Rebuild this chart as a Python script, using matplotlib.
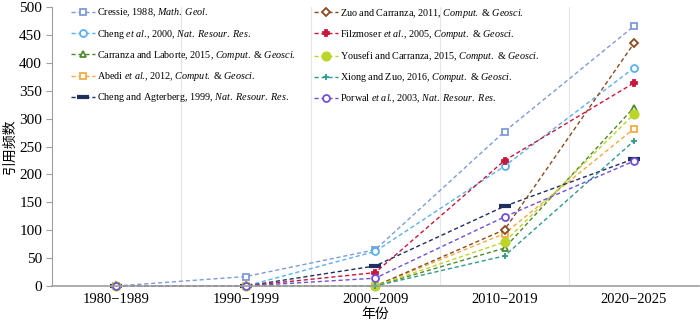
import matplotlib.pyplot as plt
import numpy as np

plt.rcParams['font.family'] = ['Liberation Serif', 'Noto Sans CJK SC']
plt.rcParams['mathtext.fontset'] = 'custom'
plt.rcParams['mathtext.rm'] = 'Liberation Serif'
plt.rcParams['mathtext.it'] = 'Liberation Serif:italic'
plt.rcParams['mathtext.default'] = 'it'

periods = ["1980\u22121989", "1990\u22121999", "2000\u22122009", "2010\u22122019", "2020\u22122025"]

cressie = [0, 17, 65, 277, 466]
cheng2000 = [0, 0, 62, 215, 391]
carranza_laborte = [0, 0, 0, 68, 320]
abedi = [0, 0, 0, 94, 282]
cheng_agterberg = [0, 0, 36, 143, 228]
zuo_carranza = [0, 0, 0, 101, 435]
filzmoser = [0, 0, 24, 225, 364]
yousefi = [0, 0, 0, 79, 308]
xiong_zuo = [0, 0, 0, 54, 260]
porwal = [0, 0, 14, 124, 224]

CG = r"$Comput.\ &\ Geosci.$"
NRR = r"$Nat.\ Resour.\ Res.$"
ETAL = r"$et\ al$."

series = [
    (cressie, r"Cressie, 1988, $Math.\ Geol.$", "#7F9BD9", "s", "none"),
    (cheng2000, "Cheng " + ETAL + ", 2000, " + NRR, "#5AB0F0", "o", "none"),
    (carranza_laborte, "Carranza and Laborte, 2015, " + CG, "#4E8A2E", "^", "none"),
    (abedi, "Abedi " + ETAL + ", 2012, " + CG, "#F5AA45", "s", "none"),
    (cheng_agterberg, "Cheng and Agterberg, 1999, " + NRR, "#1F3060", "_", "none"),
    (zuo_carranza, "Zuo and Carranza, 2011, " + CG, "#8B4A1E", "D", "none"),
    (filzmoser, "Filzmoser " + ETAL + ", 2005, " + CG, "#C8173A", "P", "full"),
    (yousefi, "Yousefi and Carranza, 2015, " + CG, "#BCD52A", "o", "full"),
    (xiong_zuo, "Xiong and Zuo, 2016, " + CG, "#2E9A8C", "+", "full"),
    (porwal, "Porwal " + ETAL + ", 2003, " + NRR, "#7050D8", "o", "none"),
]

fig = plt.figure(figsize=(7, 3.25), dpi=100)
ax = fig.add_axes([0.074, 0.12, 0.924, 0.858])

x = np.arange(len(periods))
for vals, label, color, marker, fill in series:
    ms = 5
    mew = 1.3
    if marker == "_":
        ms, mew = 8, 3
    if marker == "D":
        ms = 4.5
    if marker == "o" and fill == "full":
        ms = 6
    ax.plot(x, vals, linestyle=(0, (3, 2)), linewidth=1.0, color=color,
            marker=marker, markersize=ms, markeredgewidth=mew,
            markeredgecolor=color, markerfacecolor=color if fill == "full" else "white",
            label=label, clip_on=False)

ax.set_xlim(-0.5, len(periods) - 0.5)
ax.set_ylim(0, 500)
ax.set_yticks(np.arange(0, 501, 50))
ax.set_xticks(x)
ax.set_xticklabels(periods)
for b in np.arange(0.5, len(periods) - 0.5, 1):
    ax.axvline(b, color="#E6E6E6", linewidth=0.8, zorder=0)

for s in ["top", "right"]:
    ax.spines[s].set_visible(False)
ax.spines["left"].set_color("#A0A0A0")
ax.spines["bottom"].set_color("#A0A0A0")
ax.spines["bottom"].set_linewidth(1.2)
ax.tick_params(axis="y", length=4, color="#A0A0A0", labelsize=11, pad=3)
ax.tick_params(axis="x", length=0, labelsize=10.5, pad=5)

ax.set_ylabel("引用频数", family=["Noto Sans CJK SC"], fontsize=10, labelpad=2)
ax.set_xlabel("年份", family=["Noto Sans CJK SC"], fontsize=10, labelpad=1)

ax.legend(loc="upper left", bbox_to_anchor=(0.016, 1.035), ncol=2, frameon=False,
          fontsize=7.3, handlelength=2.3, columnspacing=1.8, labelspacing=0.82,
          handletextpad=0.25)

fig.savefig("out.png", dpi=100)
